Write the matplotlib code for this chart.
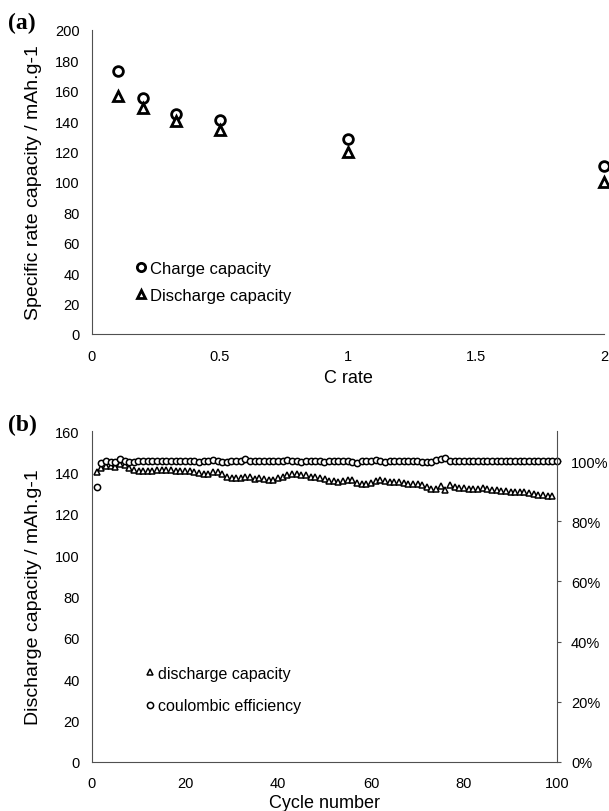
import matplotlib
matplotlib.use("Agg")
import matplotlib.pyplot as plt
from matplotlib.ticker import PercentFormatter

plt.rcParams['font.family'] = ['Liberation Sans', 'DejaVu Sans']

# (a) rate capability
c_rate = [0.1, 0.2, 0.33, 0.5, 1.0, 2.0]
charge_cap = [173, 155.5, 145, 140.5, 128, 110.5]
discharge_cap = [156.5, 148.5, 140, 134.5, 119.5, 100]

# (b) cycling
disch_cycle = [
    140, 142, 143, 143, 142.5, 144, 143.5, 142, 141, 140.5,
    140.5, 140.5, 140.5, 141, 141, 141, 141, 140.5, 140.5, 140.5,
    140.5, 140, 139.5, 139, 139, 140, 140, 139, 138, 137.5,
    137.5, 137.5, 138, 138, 137, 137.5, 137, 136.5, 136.5, 137.5,
    138, 138.5, 139, 139, 138.5, 138.5, 138, 138, 137.5, 137,
    136, 136, 135.5, 136, 136.5, 136.5, 135, 134.5, 134.5, 135,
    136, 136.5, 136, 135.5, 135.5, 135.5, 135, 134.5, 134.5, 134.5,
    134, 133, 132, 132, 133.5, 131.5, 134, 133, 132.5, 132.5,
    132, 132, 132, 132.5, 132, 131.5, 131.5, 131, 131, 130.5,
    130.5, 130.5, 130.5, 130, 129.5, 129, 129, 128.5, 128.5,
]
ce_cycle = [
    0.915, 0.995, 1.000, 0.998, 0.997, 1.007, 1.000, 0.996, 0.997, 0.999,
    1.000, 1.000, 1.001, 1.000, 1.000, 1.001, 0.999, 1.000, 1.000, 0.999,
    1.000, 0.999, 0.998, 1.000, 1.000, 1.003, 1.000, 0.998, 0.998, 0.999,
    0.999, 1.000, 1.006, 1.000, 0.999, 0.999, 0.999, 1.000, 1.001, 1.001,
    1.000, 1.003, 1.001, 1.000, 0.998, 1.000, 1.000, 0.999, 0.999, 0.998,
    0.999, 0.999, 1.000, 1.001, 1.000, 0.998, 0.994, 0.999, 0.999, 1.001,
    1.005, 1.001, 0.997, 1.000, 1.000, 1.000, 0.999, 0.999, 1.000, 1.000,
    0.998, 0.998, 0.997, 1.002, 1.006, 1.009, 1.000, 1.000, 1.000, 1.000,
    1.000, 1.000, 1.000, 0.999, 1.000, 1.000, 1.000, 1.000, 1.000, 1.000,
    0.999, 1.000, 1.000, 1.000, 1.000, 1.000, 1.000, 1.000, 1.000, 1.000,
]
cycles_d = list(range(1, len(disch_cycle) + 1))
cycles_ce = list(range(1, len(ce_cycle) + 1))

W, H = 609, 812
fig = plt.figure(figsize=(W / 100, H / 100), dpi=100)
spine_col = '#505050'
tick_fs = 10.5
xlabel_fs = 13
ylabel_fs = 14
serif = ['Liberation Serif', 'DejaVu Serif']


def box(l, t, r, b):
    return [l / W, 1 - b / H, (r - l) / W, (b - t) / H]


# ---- panel (a)
ax = fig.add_axes(box(92, 31, 604, 335))
ax.plot(c_rate, charge_cap, 'o', ms=7, mfc='white', mec='black', mew=2,
        label='Charge capacity', clip_on=False)
ax.plot(c_rate, discharge_cap, '^', ms=7, mfc='white', mec='black', mew=2,
        label='Discharge capacity', clip_on=False)
ax.set_xlim(0, 2)
ax.set_ylim(0, 200)
ax.set_xticks([0, 0.5, 1, 1.5, 2])
ax.set_xticklabels(['0', '0.5', '1', '1.5', '2'])
ax.set_yticks(range(0, 201, 20))
for s in ['top', 'right']:
    ax.spines[s].set_visible(False)
for s in ['left', 'bottom']:
    ax.spines[s].set_color(spine_col)
ax.tick_params(length=0, labelsize=tick_fs)
ax.tick_params(axis='y', pad=9)
ax.tick_params(axis='x', pad=11)
ax.set_xlabel('C rate', fontsize=xlabel_fs, labelpad=4)
ax.set_ylabel('Specific rate capacity / mAh.g-1', fontsize=ylabel_fs, labelpad=9)
ax.legend(loc='lower left', bbox_to_anchor=(0.075, 0.08), frameon=False,
          fontsize=12, handlelength=0.5, handletextpad=0.25, labelspacing=0.75,
          borderaxespad=0, markerscale=0.85)
fig.text(8 / W, 1 - 23 / H, '(a)', fontsize=17, fontweight='bold',
         family=serif, va='center')

# ---- panel (b)
bx = fig.add_axes(box(92, 432, 557, 763))
bx.plot(cycles_d, disch_cycle, '^', ms=4.5, mfc='white', mec='black', mew=1.1,
        label='discharge capacity', zorder=3)
bx.set_xlim(0, 100)
bx.set_ylim(0, 160)
bx.set_xticks(range(0, 101, 20))
bx.set_yticks(range(0, 161, 20))
bx.spines['top'].set_visible(False)
bx.spines['right'].set_visible(False)
for s in ['left', 'bottom']:
    bx.spines[s].set_color(spine_col)
bx.tick_params(length=0, labelsize=tick_fs)
bx.tick_params(axis='y', pad=9)
bx.tick_params(axis='x', pad=10)
bx.set_xlabel('Cycle number', fontsize=xlabel_fs, labelpad=3)
bx.set_ylabel('Discharge capacity / mAh.g-1', fontsize=ylabel_fs, labelpad=9)

rx = bx.twinx()
rx.plot(cycles_ce, ce_cycle, 'o', ms=4.5, mfc='white', mec='black', mew=1.1,
        label='coulombic efficiency', clip_on=False)
rx.set_ylim(0, 1.1)
rx.set_yticks([0, 0.2, 0.4, 0.6, 0.8, 1.0])
rx.yaxis.set_major_formatter(PercentFormatter(1.0, decimals=0))
rx.spines['top'].set_visible(False)
rx.spines['left'].set_visible(False)
rx.spines['bottom'].set_visible(False)
rx.spines['right'].set_color(spine_col)
rx.tick_params(axis='y', length=3, width=0.8, color=spine_col,
               labelsize=tick_fs, pad=7)

h1, l1 = bx.get_legend_handles_labels()
h2, l2 = rx.get_legend_handles_labels()
rx.legend(h1 + h2, l1 + l2, loc='lower left', bbox_to_anchor=(0.105, 0.128),
          frameon=False, fontsize=11.5, handlelength=0.4, handletextpad=0.3,
          labelspacing=1.1, borderaxespad=0)
fig.text(8 / W, 1 - 425 / H, '(b)', fontsize=17, fontweight='bold',
         family=serif, va='center')

fig.savefig('out.png', dpi=100)
